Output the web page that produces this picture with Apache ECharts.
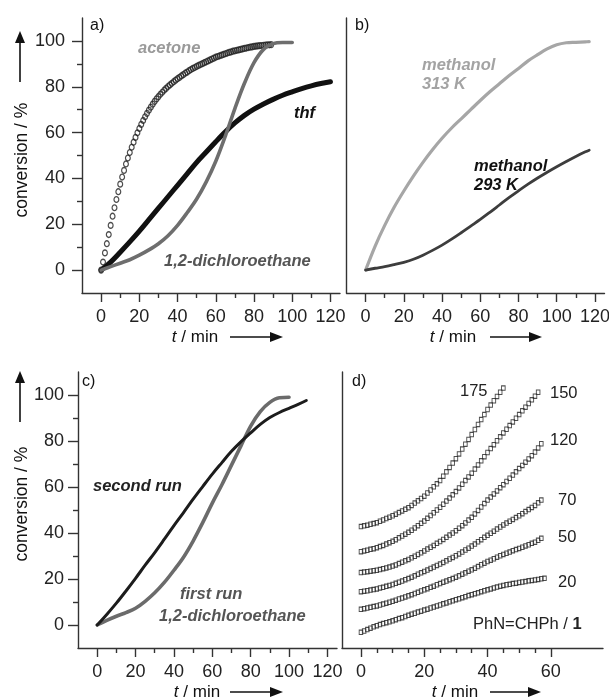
<!DOCTYPE html>
<html>
<head>
<meta charset="utf-8">
<script src="https://cdn.jsdelivr.net/npm/echarts@6/dist/echarts.min.js"></script>
<style>
  html, body { margin: 0; padding: 0; background: #fff; }
  #chart { width: 609px; height: 700px; }
</style>
</head>
<body>
<div id="chart"></div>
<script>
// ---- data (conversion / %) ----
// a) acetone, sampled every minute (t = index)
const acetone = [0, 3.5, 7.5, 11.5, 15.5, 19.5, 23.5, 27.2, 30.8, 34.2, 37.5, 40.6, 43.5, 46.3, 48.9, 51.3, 53.6, 55.8, 57.9, 59.9,
  61.8, 63.6, 65.3, 66.9, 68.4, 69.8, 71.1, 72.4, 73.6, 74.7, 75.7, 76.7, 77.6, 78.5, 79.3, 80.1, 80.8, 81.5, 82.2, 82.9,
  83.5, 84.1, 84.7, 85.3, 85.9, 86.4, 87, 87.5, 88, 88.4, 88.9, 89.3, 89.7, 90.1, 90.5, 90.9, 91.3, 91.7, 92.1, 92.5,
  92.9, 93.2, 93.5, 93.8, 94.1, 94.4, 94.7, 95, 95.2, 95.5, 95.7, 95.9, 96.1, 96.3, 96.5, 96.7, 96.9, 97.1, 97.3, 97.4,
  97.6, 97.7, 97.8, 97.9, 98, 98.1, 98.2, 98.3, 98.3, 98.4];
// a) thf, every 5 min
const thfT = [0, 5, 10, 15, 20, 25, 30, 35, 40, 45, 50, 55, 60, 65, 70, 75, 80, 85, 90, 95, 100, 105, 110, 115, 120];
const thf = [0, 3.5, 7.8, 12.3, 17, 22, 27, 32, 37, 42, 47, 51.5, 56, 60.3, 64.2, 67.5, 70.2, 72.5, 74.5, 76.3, 77.8, 79.2, 80.4, 81.4, 82.2];
// a) 1,2-dichloroethane, every 5 min
const dceT = [0, 5, 10, 15, 20, 25, 30, 35, 40, 45, 50, 55, 60, 65, 70, 75, 80, 85, 90, 95, 100];
const dce = [0, 1.5, 3, 4.5, 6.5, 8.8, 11.5, 15, 19.5, 25, 31, 38.5, 47.5, 58.5, 70.5, 81.5, 90.5, 96.3, 98.8, 99.3, 99.3];
// b) methanol at 313 K and 293 K
const methT = [0, 5, 10, 15, 20, 25, 30, 35, 40, 45, 50, 55, 60, 65, 70, 75, 80, 85, 90, 95, 100, 105, 110, 115, 117];
const meth313 = [0, 10.5, 19.5, 27.5, 34.5, 41, 47, 52.5, 57.5, 62, 66, 70, 74, 77.8, 81.3, 84.8, 88, 91.3, 94, 96.5, 98.3, 99.2, 99.4, 99.6, 99.7];
const meth293 = [0, 0.8, 1.5, 2.4, 3.4, 4.7, 6.5, 8.6, 10.9, 13.5, 16.3, 19.2, 22.1, 25.2, 28.4, 31.6, 34.6, 37.5, 40.2, 42.7, 45.1, 47.4, 49.6, 51.6, 52.3];
// c) first and second run in 1,2-dichloroethane
const firstT = [0, 5, 10, 15, 20, 25, 30, 35, 40, 45, 50, 55, 60, 65, 70, 75, 80, 85, 90, 95, 100];
const firstRun = [0, 2, 3.8, 5.4, 7.3, 10.3, 14, 18.5, 23.8, 29.5, 36.5, 44.5, 53, 61, 69.5, 78, 86.5, 92.8, 96.8, 98.8, 99];
const secondT = [0, 5, 10, 15, 20, 25, 30, 35, 40, 45, 50, 55, 60, 65, 70, 75, 80, 85, 90, 95, 100, 105, 109];
const secondRun = [0, 4.6, 9.5, 14.8, 20.3, 26, 31.5, 37.3, 43.2, 48.9, 54.7, 60.2, 65.6, 70.6, 75.5, 79.7, 83.5, 87.2, 90.2, 92.4, 94.2, 96, 97.6];
// d) PhN=CHPh / 1 ratios, sampled every minute (t = index), curves offset vertically
const ratioNames = ['20', '50', '70', '120', '150', '175'];
const r20 = [-3.2, -2.6, -2.0, -1.4, -0.8, -0.3, 0.2, 0.6, 1.0, 1.4, 1.8, 2.3, 2.8, 3.2, 3.7, 4.2, 4.7, 5.1, 5.6, 6.0,
  6.5, 6.9, 7.4, 7.8, 8.3, 8.7, 9.2, 9.6, 10.1, 10.5, 11.0, 11.4, 11.9, 12.3, 12.8, 13.2, 13.6, 14.0, 14.5, 14.9,
  15.3, 15.7, 16.1, 16.5, 16.9, 17.2, 17.5, 17.7, 18.0, 18.2, 18.5, 18.7, 18.9, 19.2, 19.4, 19.6, 19.8, 20.1, 20.3];
const r50 = [6.8, 7.1, 7.4, 7.7, 8.0, 8.3, 8.7, 9.1, 9.5, 9.9, 10.3, 10.8, 11.3, 11.7, 12.2, 12.7, 13.2, 13.7, 14.2, 14.8,
  15.3, 15.8, 16.4, 16.9, 17.5, 18.0, 18.6, 19.1, 19.7, 20.2, 20.8, 21.4, 22.1, 22.7, 23.4, 24.0, 24.7, 25.4, 26.2, 26.9,
  27.6, 28.2, 28.8, 29.5, 30.1, 30.7, 31.2, 31.7, 32.3, 32.8, 33.3, 33.8, 34.4, 34.9, 35.5, 36.0, 36.8, 37.7];
const r70 = [14.5, 14.7, 14.9, 15.2, 15.4, 15.7, 16.1, 16.4, 16.8, 17.2, 17.6, 18.1, 18.6, 19.1, 19.7, 20.2, 20.8, 21.4, 22.1, 22.7,
  23.3, 23.9, 24.6, 25.2, 25.9, 26.5, 27.2, 27.9, 28.7, 29.4, 30.1, 30.9, 31.7, 32.6, 33.4, 34.3, 35.2, 36.2, 37.1, 38.1,
  39.0, 39.9, 40.8, 41.7, 42.6, 43.5, 44.3, 45.1, 45.9, 46.7, 47.5, 48.4, 49.3, 50.2, 51.1, 52.0, 53.1, 54.3];
const r120 = [22.8, 23.0, 23.2, 23.4, 23.6, 23.8, 24.1, 24.5, 24.8, 25.2, 25.6, 26.1, 26.7, 27.3, 27.9, 28.5, 29.2, 29.9, 30.7, 31.4,
  32.2, 33.0, 33.8, 34.6, 35.5, 36.3, 37.2, 38.1, 39.1, 40.0, 41.0, 42.1, 43.2, 44.4, 45.6, 46.8, 48.3, 49.8, 51.3, 52.8,
  54.3, 55.6, 57.0, 58.3, 59.7, 61.0, 62.4, 63.8, 65.2, 66.6, 68.0, 69.4, 70.8, 72.2, 73.6, 75.2, 77.0, 78.8];
const r150 = [31.9, 32.2, 32.5, 32.9, 33.2, 33.6, 34.1, 34.6, 35.2, 35.8, 36.4, 37.1, 37.9, 38.7, 39.5, 40.3, 41.2, 42.2, 43.2, 44.2,
  45.2, 46.4, 47.6, 48.8, 50.0, 51.2, 52.5, 53.9, 55.2, 56.6, 58.0, 59.6, 61.2, 62.8, 64.4, 66.0, 67.8, 69.6, 71.4, 73.2,
  75.0, 76.7, 78.4, 80.1, 81.8, 83.5, 85.1, 86.7, 88.3, 89.9, 91.5, 93.1, 94.7, 96.3, 97.9, 99.5, 101.2];
const r175 = [42.8, 43.1, 43.4, 43.8, 44.1, 44.5, 45.1, 45.7, 46.3, 46.9, 47.5, 48.2, 48.9, 49.6, 50.3, 51.0, 52.0, 53.0, 54.0, 55.0,
  56.0, 57.4, 58.7, 60.1, 61.4, 62.8, 64.7, 66.6, 68.5, 70.4, 72.3, 74.4, 76.5, 78.6, 80.7, 82.8, 85.0, 87.2, 89.3, 91.5,
  93.7, 95.6, 97.5, 99.4, 101.2, 103.0];

// tick values
const xMajor = [0, 20, 40, 60, 80, 100, 120];
const xMinor = [10, 30, 50, 70, 90, 110];
const yMajor = [0, 20, 40, 60, 80, 100];
const yMinor = [10, 30, 50, 70, 90];
const dMajor = [0, 20, 40, 60];
const dMinor = [5, 10, 15, 25, 30, 35, 45, 50, 55];

const FONT = '"Liberation Sans", Arial, Helvetica, sans-serif';
const AXIS = '#333';

const chart = echarts.init(document.getElementById('chart'), null, { renderer: 'canvas' });

// ---- axes: main axis (line, major ticks, labels) + overlay axis for minor ticks ----
function xAxisPair(grid, min, max, major, minor) {
  return [
    {
      type: 'value', gridIndex: grid, min: min, max: max, position: 'bottom',
      axisLine: { show: true, onZero: false, lineStyle: { color: AXIS, width: 1.4 } },
      axisTick: { show: true, customValues: major, length: 9, lineStyle: { color: AXIS, width: 1.4 } },
      axisLabel: { show: true, customValues: major, margin: 15, fontSize: 18, color: '#222', fontFamily: FONT, hideOverlap: false },
      splitLine: { show: false }
    },
    {
      type: 'value', gridIndex: grid, min: min, max: max, position: 'bottom',
      axisLine: { show: false, onZero: false },
      axisTick: { show: true, customValues: minor, length: 5, lineStyle: { color: AXIS, width: 1.4 } },
      axisLabel: { show: false },
      splitLine: { show: false }
    }
  ];
}
function yAxisPair(grid, showTicks, margin) {
  return [
    {
      type: 'value', gridIndex: grid, min: -10, max: 110, position: 'left',
      axisLine: { show: true, onZero: false, lineStyle: { color: AXIS, width: 1.4 } },
      axisTick: { show: showTicks, customValues: yMajor, length: 10, lineStyle: { color: AXIS, width: 1.4 } },
      axisLabel: { show: showTicks, customValues: yMajor, margin: margin, fontSize: 18, color: '#222', fontFamily: FONT, hideOverlap: false },
      splitLine: { show: false }
    },
    {
      type: 'value', gridIndex: grid, min: -10, max: 110, position: 'left',
      axisLine: { show: false, onZero: false },
      axisTick: { show: showTicks, customValues: yMinor, length: 5, lineStyle: { color: AXIS, width: 1.4 } },
      axisLabel: { show: false },
      splitLine: { show: false }
    }
  ];
}

function pairs(ts, vs) { return vs.map((v, i) => [ts[i], v]); }
function perMinute(vs) { return vs.map((v, i) => [i, v]); }

function lineSeries(grid, data, color, width, z) {
  return {
    type: 'line', xAxisIndex: grid * 2, yAxisIndex: grid * 2, data: data,
    smooth: 0.35, showSymbol: false, symbol: 'none', z: z || 2,
    lineStyle: { color: color, width: width, cap: 'round', join: 'round' }
  };
}
function markerSeries(grid, data, symbol, size, bw) {
  return {
    type: 'scatter', xAxisIndex: grid * 2, yAxisIndex: grid * 2, data: data,
    symbol: symbol, symbolSize: size,
    itemStyle: { color: 'rgba(0,0,0,0)', borderColor: '#222', borderWidth: bw || 1 }
  };
}

// ---- text + arrows ----
function txt(x, y, text, o) {
  return {
    type: 'text', x: x, y: y, z: 10,
    style: Object.assign({
      text: text, fontFamily: FONT, fontSize: 17, fill: '#111',
      align: 'left', verticalAlign: 'middle'
    }, o || {})
  };
}
const BI = { fontWeight: 'bold', fontStyle: 'italic', fontSize: 16.5 };
function rightArrow(x1, x2, y) {
  return [
    { type: 'line', shape: { x1: x1, y1: y, x2: x2 - 10, y2: y }, style: { stroke: '#111', lineWidth: 1.6 } },
    { type: 'polygon', shape: { points: [[x2 - 13, y - 5], [x2, y], [x2 - 13, y + 5]] }, style: { fill: '#111' } }
  ];
}
function upArrow(x, yTip, yEnd) {
  return [
    { type: 'line', shape: { x1: x, y1: yEnd, x2: x, y2: yTip + 10 }, style: { stroke: '#111', lineWidth: 1.6 } },
    { type: 'polygon', shape: { points: [[x - 5, yTip + 12], [x, yTip], [x + 5, yTip + 12]] }, style: { fill: '#111' } }
  ];
}
function timeName(cx, y) {
  return txt(cx, y, '{i|t} / min', {
    align: 'center', fontSize: 17,
    rich: { i: { fontStyle: 'italic', fontSize: 17, fontFamily: FONT, fill: '#111' } }
  });
}
function convName(cx, cy) {
  const t = txt(cx, cy, 'conversion / %', { align: 'center', fontSize: 17.5 });
  t.rotation = Math.PI / 2;
  return t;
}

const graphic = [].concat(
  // panel letters
  txt(90, 26, 'a)', { fontSize: 16 }),
  txt(355, 26, 'b)', { fontSize: 16 }),
  txt(82, 382, 'c)', { fontSize: 16 }),
  txt(352, 382, 'd)', { fontSize: 16 }),
  // axis names
  convName(22, 160), upArrow(20, 31, 82),
  convName(22, 504), upArrow(20, 371, 422),
  timeName(195, 337), rightArrow(230, 283, 337),
  timeName(453, 337), rightArrow(490, 542, 337),
  timeName(197, 692), rightArrow(230, 283, 692),
  timeName(455, 692), rightArrow(490, 541, 692),
  // panel a labels
  txt(138, 48, 'acetone', Object.assign({ fill: '#9a9a9a' }, BI)),
  txt(294, 113, 'thf', Object.assign({ fill: '#111' }, BI)),
  txt(164, 261, '1,2-dichloroethane', Object.assign({ fill: '#555' }, BI)),
  // panel b labels
  txt(422, 65, 'methanol', Object.assign({ fill: '#a3a3a3' }, BI)),
  txt(422, 84, '313 K', Object.assign({ fill: '#a3a3a3' }, BI)),
  txt(474, 166, 'methanol', Object.assign({ fill: '#111' }, BI)),
  txt(474, 185, '293 K', Object.assign({ fill: '#111' }, BI)),
  // panel c labels
  txt(93, 486, 'second run', Object.assign({ fill: '#222' }, BI)),
  txt(180, 594, 'first run', Object.assign({ fill: '#555' }, BI)),
  txt(159, 616, '1,2-dichloroethane', Object.assign({ fill: '#555' }, BI)),
  // panel d labels
  txt(460, 391, ratioNames[5], { fontSize: 16.5, fill: '#222' }),
  txt(550, 393, ratioNames[4], { fontSize: 16.5, fill: '#222' }),
  txt(550, 440, ratioNames[3], { fontSize: 16.5, fill: '#222' }),
  txt(558, 500, ratioNames[2], { fontSize: 16.5, fill: '#222' }),
  txt(558, 537, ratioNames[1], { fontSize: 16.5, fill: '#222' }),
  txt(558, 582, ratioNames[0], { fontSize: 16.5, fill: '#222' }),
  txt(473, 624, 'PhN=CHPh / {b|1}', {
    fontSize: 16.5, fill: '#222',
    rich: { b: { fontWeight: 'bold', fontSize: 16.5, fontFamily: FONT, fill: '#222' } }
  })
);

const option = {
  animation: false,
  backgroundColor: '#fff',
  grid: [
    { left: 82, top: 18, width: 258, height: 275, outerBoundsMode: 'none' },
    { left: 346.5, top: 18, width: 258, height: 275, outerBoundsMode: 'none' },
    { left: 78, top: 372, width: 259, height: 276, outerBoundsMode: 'none' },
    { left: 342, top: 372, width: 261, height: 276, outerBoundsMode: 'none' }
  ],
  xAxis: [].concat(
    xAxisPair(0, -10, 125, xMajor, xMinor),
    xAxisPair(1, -10, 125, xMajor, xMinor),
    xAxisPair(2, -10, 125, xMajor, xMinor),
    xAxisPair(3, -6, 76.5, dMajor, dMinor)
  ),
  yAxis: [].concat(
    yAxisPair(0, true, 17),
    yAxisPair(1, false, 0),
    yAxisPair(2, true, 14),
    yAxisPair(3, false, 0)
  ),
  series: [
    // a
    markerSeries(0, perMinute(acetone), 'circle', [4.8, 5.8], 1.3),
    lineSeries(0, pairs(thfT, thf), '#111', 5),
    lineSeries(0, pairs(dceT, dce), '#6e6e6e', 3.6, 3),
    // b
    lineSeries(1, pairs(methT, meth313), '#a6a6a6', 3.2),
    lineSeries(1, pairs(methT, meth293), '#3d3d3d', 2.8),
    // c
    lineSeries(2, pairs(firstT, firstRun), '#6b6b6b', 3.6),
    lineSeries(2, pairs(secondT, secondRun), '#1c1c1c', 3, 3),
    // d
    markerSeries(3, perMinute(r20), 'rect', [3.6, 4.4]),
    markerSeries(3, perMinute(r50), 'rect', [3.6, 4.4]),
    markerSeries(3, perMinute(r70), 'rect', [3.6, 4.4]),
    markerSeries(3, perMinute(r120), 'rect', [3.6, 4.4]),
    markerSeries(3, perMinute(r150), 'rect', [3.6, 4.4]),
    markerSeries(3, perMinute(r175), 'rect', [3.6, 4.4])
  ],
  graphic: graphic
};
chart.setOption(option);
</script>
</body>
</html>
